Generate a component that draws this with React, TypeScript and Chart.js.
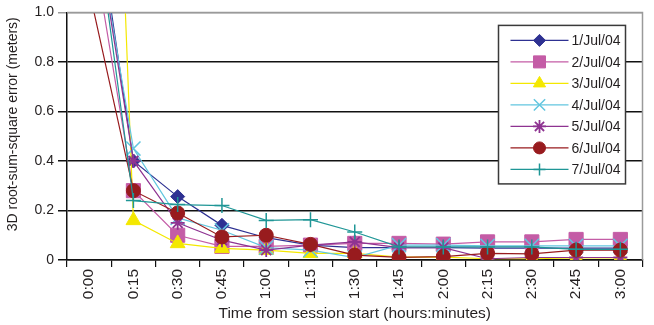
import { useEffect, useRef } from 'react';
import { Chart, registerables } from 'chart.js';
import { drawPoint } from 'chart.js/helpers';

Chart.register(...registerables);

// Session time in 15-minute steps
const timeLabels = ['0:00', '0:15', '0:30', '0:45', '1:00', '1:15', '1:30', '1:45', '2:00', '2:15', '2:30', '2:45', '3:00'];

// 3D root-sum-square error per session day (meters)
const seriesNames = ['1/Jul/04', '2/Jul/04', '3/Jul/04', '4/Jul/04', '5/Jul/04', '6/Jul/04', '7/Jul/04'];
const jul1 = [1.61, 0.40, 0.256, 0.14, 0.09, 0.06, 0.05, 0.05, 0.05, 0.048, 0.048, 0.048, 0.048];
const jul2 = [1.36, 0.28, 0.10, 0.055, 0.055, 0.06, 0.067, 0.067, 0.064, 0.073, 0.073, 0.083, 0.083];
const jul3 = [4.8, 0.16, 0.067, 0.047, 0.04, 0.027, 0.027, 0.012, 0.012, 0.005, 0.005, 0.008, 0.008];
const jul4 = [1.51, 0.45, 0.17, 0.12, 0.05, 0.04, 0.01, 0.06, 0.06, 0.057, 0.057, 0.057, 0.057];
const jul5 = [1.52, 0.40, 0.15, 0.08, 0.04, 0.06, 0.073, 0.05, 0.05, 0.005, 0.01, 0.01, 0.01];
const jul6 = [1.09, 0.28, 0.19, 0.093, 0.10, 0.063, 0.02, 0.011, 0.014, 0.027, 0.025, 0.04, 0.04];
const jul7 = [1.57, 0.24, 0.224, 0.22, 0.16, 0.163, 0.113, 0.053, 0.053, 0.053, 0.053, 0.043, 0.043];

const yTickValues = [0, 0.2, 0.4, 0.6, 0.8, 1.0];

const FONT = "'Liberation Sans', Arial, Helvetica, sans-serif";
const TEXT = '#231f20';

type Style = {
  color: string;
  pointStyle: string;
  radius: number;
  legendRadius: number;
  pointBorderWidth: number;
};

const styles: Style[] = [
  { color: '#2e3192', pointStyle: 'rectRot', radius: 7, legendRadius: 6, pointBorderWidth: 1 },
  { color: '#c45ca6', pointStyle: 'rect', radius: 10, legendRadius: 8.5, pointBorderWidth: 1 },
  { color: '#f4e800', pointStyle: 'triangle', radius: 8.5, legendRadius: 7, pointBorderWidth: 1 },
  { color: '#62c6df', pointStyle: 'crossRot', radius: 10, legendRadius: 8, pointBorderWidth: 1.5 },
  { color: '#8e3391', pointStyle: 'star', radius: 7, legendRadius: 6.5, pointBorderWidth: 1.8 },
  { color: '#981b1e', pointStyle: 'circle', radius: 7, legendRadius: 6, pointBorderWidth: 1 },
  { color: '#1f9696', pointStyle: 'cross', radius: 7.5, legendRadius: 6, pointBorderWidth: 1.5 },
];

const seriesValues = [jul1, jul2, jul3, jul4, jul5, jul6, jul7];

// Gray frame on the top and right edges of the plot area
const plotFrame = {
  id: 'plotFrame',
  afterDatasetsDraw(chart: any) {
    const { ctx, chartArea: a } = chart;
    ctx.save();
    ctx.strokeStyle = '#9a9a9a';
    ctx.lineWidth = 1.5;
    ctx.beginPath();
    ctx.moveTo(a.left, a.top);
    ctx.lineTo(a.right, a.top);
    ctx.lineTo(a.right, a.bottom);
    ctx.stroke();
    ctx.restore();
  },
};

// Boxed legend inside the plot, line with marker in the middle
const boxLegend = {
  id: 'boxLegend',
  afterDraw(chart: any) {
    const { ctx, chartArea: a } = chart;
    const right = a.right - 17;
    const top = a.top + 13;
    const width = 127;
    const left = right - width;
    const rowH = 21.5;
    const height = rowH * seriesNames.length + 8;
    ctx.save();
    ctx.fillStyle = '#ffffff';
    ctx.fillRect(left, top, width, height);
    ctx.strokeStyle = '#3a3a3a';
    ctx.lineWidth = 1.5;
    ctx.strokeRect(left, top, width, height);
    ctx.font = `14px ${FONT}`;
    ctx.textBaseline = 'middle';
    ctx.textAlign = 'left';
    seriesNames.forEach((name, i) => {
      const s = styles[i];
      const y = top + 15 + i * rowH;
      const x0 = left + 12;
      const x1 = left + 70;
      ctx.strokeStyle = s.color;
      ctx.lineWidth = 1.3;
      ctx.beginPath();
      ctx.moveTo(x0, y);
      ctx.lineTo(x1, y);
      ctx.stroke();
      ctx.fillStyle = s.color;
      ctx.strokeStyle = s.color;
      ctx.lineWidth = s.pointBorderWidth;
      drawPoint(ctx, { pointStyle: s.pointStyle as any, rotation: 0, radius: s.legendRadius, borderWidth: s.pointBorderWidth }, (x0 + x1) / 2, y);
      ctx.fillStyle = TEXT;
      ctx.fillText(name, x1 + 3, y + 1);
    });
    ctx.restore();
  },
};

// Vertical axis title
const yTitle = {
  id: 'yTitle',
  afterDraw(chart: any) {
    const { ctx, chartArea: a } = chart;
    ctx.save();
    ctx.translate(13, (a.top + a.bottom) / 2 - 12);
    ctx.rotate(-Math.PI / 2);
    ctx.font = `14px ${FONT}`;
    ctx.fillStyle = TEXT;
    ctx.textAlign = 'center';
    ctx.textBaseline = 'middle';
    ctx.fillText('3D root-sum-square error (meters)', 0, 0);
    ctx.restore();
  },
};

export default function App() {
  const canvasRef = useRef<HTMLCanvasElement | null>(null);

  useEffect(() => {
    const canvas = canvasRef.current;
    if (!canvas) return;

    const datasets = seriesNames.map((name, i) => {
      const s = styles[i];
      return {
        label: name,
        data: seriesValues[i],
        borderColor: s.color,
        backgroundColor: s.color,
        borderWidth: 1.2,
        pointStyle: s.pointStyle,
        pointRadius: s.radius,
        pointHoverRadius: s.radius,
        pointBorderWidth: s.pointBorderWidth,
        pointBorderColor: s.color,
        pointBackgroundColor: s.color,
        tension: 0,
        order: seriesNames.length - 1 - i,
      };
    });

    const chart = new Chart(canvas, {
      type: 'line',
      data: { labels: timeLabels, datasets: datasets as any },
      plugins: [plotFrame, boxLegend, yTitle],
      options: {
        animation: false,
        responsive: false,
        maintainAspectRatio: false,
        layout: { padding: { left: 0, top: 9, right: 9, bottom: 0 } },
        plugins: {
          legend: { display: false },
          tooltip: { enabled: false },
          title: { display: false },
        },
        scales: {
          x: {
            type: 'category',
            offset: true,
            afterFit(scale: any) {
              scale.height = 65;
            },
            grid: {
              offset: true,
              drawOnChartArea: false,
              drawTicks: true,
              tickLength: 7,
              color: '#111',
              lineWidth: 1.2,
            },
            border: { display: true, color: '#111', width: 1.5 },
            ticks: {
              autoSkip: false,
              minRotation: 90,
              maxRotation: 90,
              padding: 2,
              color: TEXT,
              font: { family: FONT, size: 15.5 },
            },
            title: {
              display: true,
              text: 'Time from session start (hours:minutes)',
              color: TEXT,
              font: { family: FONT, size: 15.5 },
              padding: { top: 0, bottom: 2 },
            },
          },
          y: {
            min: 0,
            max: 1,
            afterFit(scale: any) {
              scale.width = 67;
            },
            afterBuildTicks(scale: any) {
              scale.ticks = yTickValues.map((v) => ({ value: v }));
            },
            grid: {
              drawOnChartArea: true,
              drawTicks: true,
              tickLength: 9,
              color: (ctx: any) => (ctx.tick && ctx.tick.value === 1 ? '#9a9a9a' : '#111'),
              lineWidth: 1.5,
            },
            border: { display: true, color: '#111', width: 1.5 },
            ticks: {
              padding: 4,
              color: TEXT,
              font: { family: FONT, size: 14 },
              callback: (v: any) => (v === 0 ? '0' : Number(v).toFixed(1)),
            },
          },
        },
      },
    });

    return () => chart.destroy();
  }, []);

  return (
    <div style={{ position: 'absolute', left: 0, top: 0, width: 654, height: 325, background: '#fff' }}>
      <canvas ref={canvasRef} width={654} height={325} style={{ display: 'block', width: 654, height: 325 }} />
    </div>
  );
}
